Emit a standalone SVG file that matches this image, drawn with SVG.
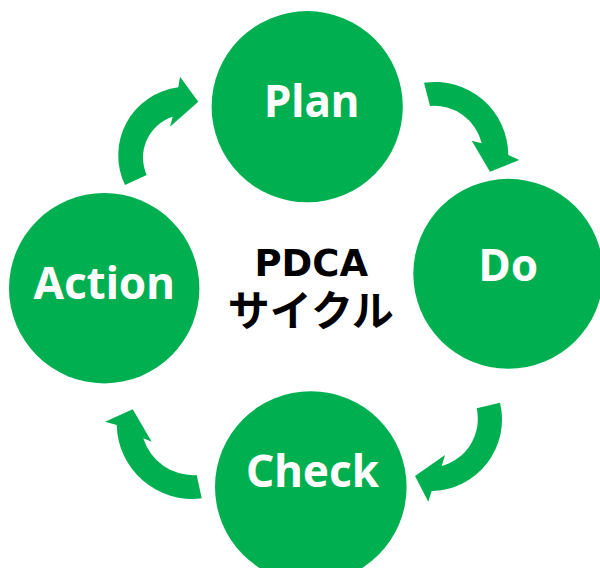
<svg xmlns="http://www.w3.org/2000/svg" width="600" height="568" viewBox="0 0 600 568">
  <style>
    .node { fill: #00B050; }
    .lbl { font-family: "Noto Sans", "Open Sans", sans-serif; font-weight: bold; font-size: 44px; fill: #FFFFFF; text-anchor: middle; }
    .arrow { fill: #00B050; stroke: none; }
    .title { font-weight: bold; fill: #000000; text-anchor: middle; }
    .t-en { font-family: "DejaVu Sans", "Noto Sans CJK JP", sans-serif; font-size: 37px; }
    .t-jp { font-family: "Noto Sans CJK JP", sans-serif; font-size: 42px; }
  </style>
  <rect width="600" height="568" fill="#FFFFFF"/>
  <g id="connectors">
    <path class="arrow" d="M424,82.7 A73.5,73.5 0 0 1 508.3,155 L519.3,160 L490,171.7 L471.7,140.7 L481.7,143.3 A49,49 0 0 0 430,106 Z"/>
    <path class="arrow" d="M500,402.7 A71.5,71.5 0 0 1 431.7,491 L428.3,501.7 L415,476 L445,455 L441.7,466 A49,49 0 0 0 476.7,408.3 Z"/>
    <path class="arrow" d="M201.7,498.3 A75.5,75.5 0 0 1 116.7,425 L105,421.7 L132.7,409.3 L151.7,441.7 L143.3,438.3 A52,52 0 0 0 196.7,475 Z"/>
    <path class="arrow" d="M125,185 A68.5,68.5 0 0 1 178.3,87.3 L180,76.7 L198.3,101.7 L170,126.7 L172.7,116.7 A43,43 0 0 0 146.7,175 Z"/>
  </g>
  <g id="plan">
    <circle class="node" cx="307.2" cy="106.7" r="95.6"/>
    <text class="lbl" x="311.7" y="117.3">Plan</text>
  </g>
  <g id="do">
    <circle class="node" cx="508.3" cy="273.8" r="95"/>
    <text class="lbl" x="508.3" y="281.3">Do</text>
  </g>
  <g id="check">
    <circle class="node" cx="310.8" cy="487" r="95.8"/>
    <text class="lbl" x="312.5" y="486.7">Check</text>
  </g>
  <g id="action">
    <circle class="node" cx="104.2" cy="288.2" r="95.2"/>
    <text class="lbl" x="104.2" y="299.3">Action</text>
  </g>
  <g id="center-title">
    <text class="title"><tspan class="t-en" x="311.3" y="276">PDCA</tspan><tspan class="t-jp" x="310.8" y="326">サイクル</tspan></text>
  </g>
</svg>
